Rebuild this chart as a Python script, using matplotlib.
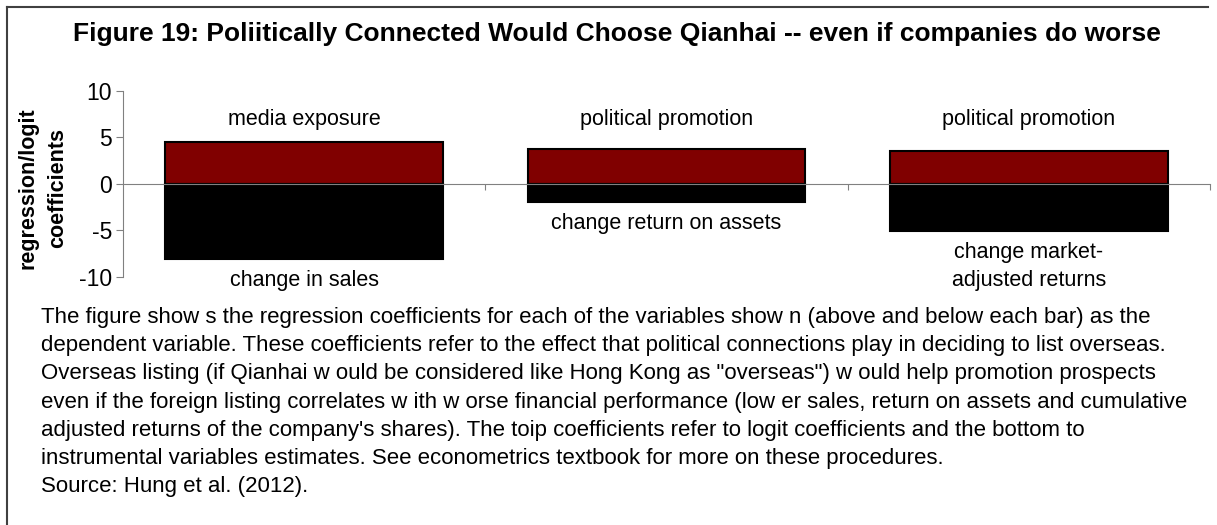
import matplotlib
matplotlib.use("Agg")
import matplotlib.pyplot as plt
from matplotlib.lines import Line2D

plt.rcParams['font.family'] = ['Liberation Sans', 'DejaVu Sans']
plt.rcParams['axes.unicode_minus'] = False

# data
categories = [1, 2, 3]
top_labels = ["media exposure", "political promotion", "political promotion"]
top_values = [4.45, 3.75, 3.5]        # logit coefficients
bottom_labels = ["change in sales", "change return on assets",
                 "change market-\nadjusted returns"]
bottom_values = [-8.1, -2.0, -5.05]   # IV estimates
y_ticks = [-10, -5, 0, 5, 10]
top_label_level = 6.85

title = ("Figure 19: Poliitically Connected Would Choose Qianhai -- "
         "even if companies do worse")
caption = (
    "The figure show s the regression coefficients for each of the variables show n (above and below each bar) as the\n"
    "dependent variable. These coefficients refer to the effect that political connections play in deciding to list overseas.\n"
    "Overseas listing (if Qianhai w ould be considered like Hong Kong as \"overseas\") w ould help promotion prospects\n"
    "even if the foreign listing correlates w ith w orse financial performance (low er sales, return on assets and cumulative\n"
    "adjusted returns of the company's shares). The toip coefficients refer to logit coefficients and the bottom to\n"
    "instrumental variables estimates. See econometrics textbook for more on these procedures.\n"
    "Source: Hung et al. (2012)."
)

W, H = 1217, 525
fig = plt.figure(figsize=(W / 100, H / 100), dpi=100)
ax = fig.add_axes([123 / W, 1 - 276.7 / H, (1210 - 123) / W, 186 / H])

grey = "#808080"
ax.bar(categories, top_values, width=0.767, color="#800000",
       edgecolor="black", linewidth=1.5, zorder=3)
ax.bar(categories, bottom_values, width=0.767, color="black",
       edgecolor="black", linewidth=1.5, zorder=3)

ax.set_xlim(0.5, 3.5)
ax.set_ylim(-10, 10)
ax.set_yticks(y_ticks)
ax.set_xticks([1.5, 2.5, 3.5])
ax.set_xticklabels([])
ax.tick_params(axis='y', direction='out', length=5, color=grey,
               labelsize=16.5, pad=3)
ax.tick_params(axis='x', direction='out', length=4, color=grey)
for s in ['top', 'right']:
    ax.spines[s].set_visible(False)
ax.spines['left'].set_color(grey)
ax.spines['bottom'].set_color(grey)
ax.spines['bottom'].set_position(('data', 0))
ax.spines['bottom'].set_zorder(4)

for x, lab in zip(categories, top_labels):
    ax.text(x, top_label_level, lab, ha='center', va='center', fontsize=15.5)
for x, v, lab in zip(categories, bottom_values, bottom_labels):
    ax.annotate(lab, (x, v), xytext=(0, -8), textcoords='offset points',
                ha='center', va='top', fontsize=15.5, linespacing=1.45)

# y axis title
fig.text(43 / W, 1 - 188 / H, "regression/logit\ncoefficients", rotation=90,
         ha='center', va='center', fontsize=15.5, fontweight='bold',
         linespacing=1.5)

fig.text(617 / W, 1 - 34 / H, title, ha='center', va='center',
         fontsize=19, fontweight='bold')
fig.text(41 / W, 1 - 307 / H, caption, ha='left', va='top',
         fontsize=16, linespacing=1.45)

# frame lines at top and left
fig.add_artist(Line2D([7 / W, 1208 / W], [1 - 7 / H, 1 - 7 / H],
                      transform=fig.transFigure, color="#404040", lw=1.5))
fig.add_artist(Line2D([7 / W, 7 / W], [1 - 7 / H, 0],
                      transform=fig.transFigure, color="#404040", lw=1.5))

fig.savefig("out.png", dpi=100)
